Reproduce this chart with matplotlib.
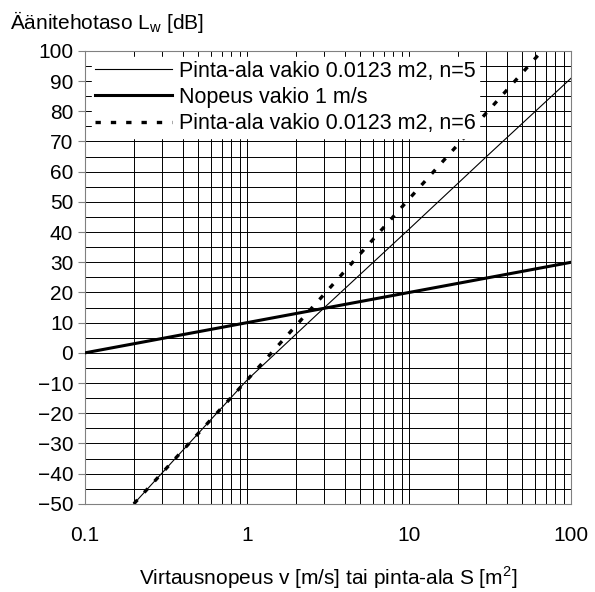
import numpy as np
import matplotlib.pyplot as plt
from matplotlib.ticker import LogLocator, MultipleLocator, NullFormatter

plt.rcParams['font.family'] = ['Liberation Sans', 'DejaVu Sans']

v_n5 = [0.2, 1, 3, 10, 30, 100]
L_n5 = [-50, -9, 15, 41, 65, 91]

S_const_v = [0.1, 1, 10, 100]
L_const_v = [0, 10, 20, 30]

v_n6 = [0.2, 1, 3, 10, 30, 66]
L_n6 = [-50, -9, 19.5, 51, 79.5, 100]

xticks = [0.1, 1, 10, 100]
xticklabels = ['0.1', '1', '10', '100']
yticks = list(range(-50, 101, 10))

fig = plt.figure(figsize=(5.95, 5.92), dpi=100)
ax = fig.add_axes([0.143, 0.149, 0.817, 0.765])

ax.plot(v_n5, L_n5, color='black', lw=0.8, label='Pinta-ala vakio 0.0123 m2, n=5', zorder=3)
ax.plot(S_const_v, L_const_v, color='black', lw=2.2, label='Nopeus vakio 1 m/s', zorder=3)
ax.plot(v_n6, L_n6, color='black', lw=2.4, ls=(0, (1.6, 3.0)), dash_capstyle='butt',
        label='Pinta-ala vakio 0.0123 m2, n=6', zorder=3)

ax.set_xscale('log')
ax.set_xlim(0.1, 100)
ax.set_ylim(-50, 100)
ax.set_xticks(xticks)
ax.set_xticklabels(xticklabels)
ax.xaxis.set_minor_locator(LogLocator(base=10, subs=np.arange(2, 10)))
ax.xaxis.set_minor_formatter(NullFormatter())
ax.set_yticks(yticks)
ax.yaxis.set_minor_locator(MultipleLocator(5))

ax.grid(True, which='both', color='black', lw=0.7)
ax.tick_params(axis='both', which='major', labelsize=15, length=5, direction='out', color='#808080')
ax.tick_params(axis='both', which='minor', length=0)
ax.tick_params(axis='x', which='major', length=0, pad=16)
for s in ax.spines.values():
    s.set_color('#808080')

leg = ax.legend(loc='upper left', fontsize=15.5, frameon=True, fancybox=False,
                edgecolor='white', framealpha=1, handlelength=3.6, handletextpad=0.3,
                borderaxespad=0.3, labelspacing=0.25, borderpad=0.15)
leg.set_zorder(5)

fig.text(0.017, 0.962, 'Äänitehotaso L$_\\mathregular{w}$ [dB]', fontsize=15, va='center')
ax.set_xlabel('Virtausnopeus v [m/s] tai pinta-ala S [m$^\\mathregular{2}$]', fontsize=15, labelpad=14)

fig.savefig('out.png', dpi=100)
